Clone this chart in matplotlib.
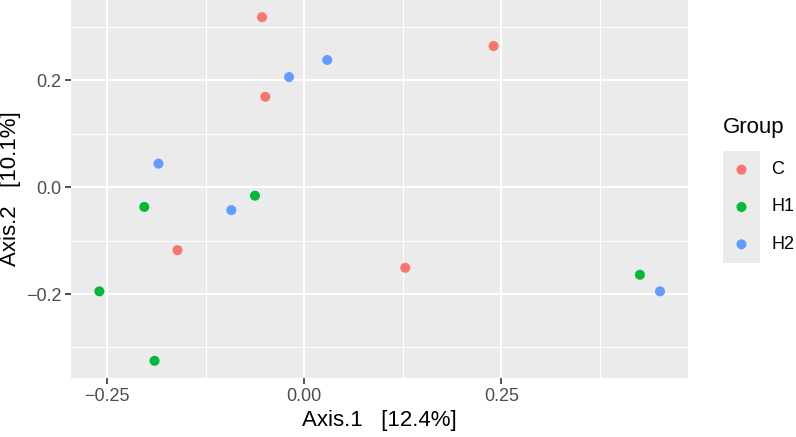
import matplotlib
matplotlib.use('Agg')
import matplotlib.pyplot as plt
from matplotlib.ticker import FixedLocator

plt.rcParams['font.family'] = ['Liberation Sans', 'DejaVu Sans']

groups = ['C', 'H1', 'H2']
colors = {'C': '#F8766D', 'H1': '#00BA38', 'H2': '#619CFF'}

c_x = [-0.0537, -0.0495, -0.161, 0.240, 0.128]
c_y = [0.318, 0.169, -0.118, 0.264, -0.151]
h1_x = [-0.203, -0.0626, -0.260, -0.190, 0.4256]
h1_y = [-0.037, -0.016, -0.195, -0.325, -0.164]
h2_x = [-0.0194, 0.029, -0.185, -0.0926, 0.451]
h2_y = [0.206, 0.238, 0.044, -0.043, -0.195]

xs = {'C': c_x, 'H1': h1_x, 'H2': h2_x}
ys = {'C': c_y, 'H1': h1_y, 'H2': h2_y}

x_ticks = [-0.25, 0.0, 0.25]
x_labels = ['\u22120.25', '0.00', '0.25']
y_ticks = [-0.2, 0.0, 0.2]
y_labels = ['\u22120.2', '0.0', '0.2']

fig = plt.figure(figsize=(7.96, 4.37), dpi=100)
ax = fig.add_axes([71.3 / 796, 59 / 437, (688 - 71.3) / 796, 378 / 437])
ax.set_facecolor('#EBEBEB')

for g in groups:
    ax.scatter(xs[g], ys[g], s=52, color=colors[g], edgecolors='none', zorder=3)

allx = c_x + h1_x + h2_x
ally = c_y + h1_y + h2_y
rx = max(allx) - min(allx)
ry = max(ally) - min(ally)
ax.set_xlim(min(allx) - 0.05 * rx, max(allx) + 0.05 * rx)
ax.set_ylim(min(ally) - 0.05 * ry, max(ally) + 0.05 * ry)

ax.set_xticks(x_ticks)
ax.set_xticklabels(x_labels)
ax.set_yticks(y_ticks)
ax.set_yticklabels(y_labels)
ax.xaxis.set_minor_locator(FixedLocator([-0.125, 0.125, 0.375]))
ax.yaxis.set_minor_locator(FixedLocator([-0.3, -0.1, 0.1, 0.3]))

ax.grid(which='major', color='white', linewidth=1.5, zorder=0)
ax.grid(which='minor', color='white', linewidth=0.75, zorder=0)
ax.set_axisbelow(True)
for s in ax.spines.values():
    s.set_visible(False)
ax.tick_params(which='major', length=4, width=1.2, color='#333333',
               labelsize=13, labelcolor='#4D4D4D', pad=3)
ax.tick_params(which='minor', length=0)

ax.set_xlabel('Axis.1   [12.4%]', fontsize=16, color='black', labelpad=4)
ax.set_ylabel('Axis.2   [10.1%]', fontsize=16, color='black')
ax.yaxis.set_label_coords((21 - 71.3) / 616.7, 0.5)

# legend
fig.text(722.7 / 796, 1 - 128 / 437, 'Group', fontsize=16, ha='left', va='center')
lax = fig.add_axes([723 / 796, 1 - 263 / 437, 37 / 796, 112 / 437])
lax.set_facecolor('#EBEBEB')
lax.set_xlim(0, 1)
lax.set_ylim(0, 3)
for i, g in enumerate(groups):
    yy = 2.5 - i
    lax.scatter([0.5], [yy], s=52, color=colors[g], edgecolors='none')
    lax.text(1.3, yy, g, fontsize=13, ha='left', va='center',
             transform=lax.transData, clip_on=False)
lax.set_xticks([])
lax.set_yticks([])
for s in lax.spines.values():
    s.set_visible(False)

fig.savefig('out.png', dpi=100)
